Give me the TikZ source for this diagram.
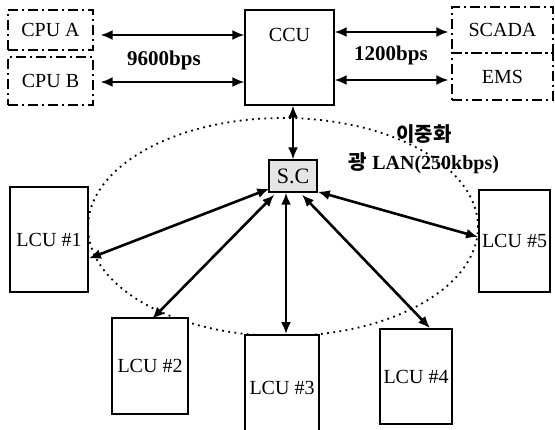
\documentclass[tikz,border=0pt]{standalone}
\usepackage{fontspec}
\setmainfont{Liberation Serif}
\newfontfamily\cjk{Noto Sans CJK KR}
\usetikzlibrary{arrows.meta,calc}

\tikzset{
  box/.style={draw, line width=0.9pt, fill=white, inner sep=0pt},
  dashbox/.style={draw, line width=0.7pt, inner sep=0pt,
    dash pattern=on 5pt off 2pt on 1pt off 2pt},
  link/.style={<->, line width=0.9pt},
  biglink/.style={<->, line width=1.3pt},
}

\begin{document}
\begin{tikzpicture}[>={Latex[length=6pt,width=5pt]}, x=0.5pt, y=-0.5pt]
			\clip (0,0) rectangle (555,429);
			% lan ring
			\draw[line width=0.9pt, dash pattern=on 0.9pt off 2.2pt] (283,227) ellipse [x radius=97.5pt, y radius=54.5pt];
			% upper level
			\node[dashbox, minimum width=42.5pt, minimum height=20pt] (cpua) at (50.5,30) {CPU A};
			\node[dashbox, minimum width=42.5pt, minimum height=24pt] (cpub) at (50.5,81) {CPU B};
			\node[box, line width=0.7pt, minimum width=44.5pt, minimum height=47.5pt,
				label={[yshift=11.25pt]center:CCU}] (ccu) at (289.5,57.5) {};
			\node[dashbox, minimum width=50.5pt, minimum height=23pt] (scada) at (502.5,30) {SCADA};
			\node[dashbox, minimum width=50.5pt, minimum height=23.5pt] (ems) at (502.5,76.5) {EMS};
			\node[box, line width=0.7pt, fill=black!10, minimum width=24pt, minimum height=16pt,
				font=\fontsize{11}{13}\selectfont] (sc) at (293,176) {S.C};
			% local units
			\node[box, minimum width=39pt, minimum height=52.5pt] (lcu1) at (49,239.5) {LCU \#1};
			\node[box, minimum width=38pt, minimum height=48pt] (lcu2) at (150,366) {LCU \#2};
			\node[box, minimum width=37pt, minimum height=52.5pt] (lcu3) at (282,387.5) {LCU \#3};
			\node[box, minimum width=36pt, minimum height=47.5pt] (lcu4) at (416,376.5) {LCU \#4};
			\node[box, minimum width=35.5pt, minimum height=51pt] (lcu5) at (514.5,241) {LCU \#5};
			% links
			\draw[link] ([shift={(7,5)}]cpua.east) coordinate (a1) -- (a1 -| ccu.west);
			\draw[link] ([shift={(7,1)}]cpub.east) coordinate (b1) -- (b1 -| ccu.west);
			\draw[link] ([shift={(-3,2)}]scada.west) coordinate (s1) -- (s1 -| ccu.east);
			\draw[link] ([shift={(-3,3.5)}]ems.west) coordinate (e1) -- (e1 -| ccu.east);
			\node[font=\bfseries\fontsize{10.5}{12}\selectfont] (r1) at (164,60) {9600bps};
			\node[font=\bfseries\fontsize{10.5}{12}\selectfont] (r2) at (391,55) {1200bps};
			\draw[link] (sc.north |- ccu.south) -- (sc.north);
			\draw[biglink] ([yshift=-9.5]lcu1.east) -- ([shift={(1,-4)}]sc.south west);
			\draw[biglink] ([shift={(2,2)}]lcu2.north) -- ([shift={(6,2)}]sc.south west);
			\draw[biglink] ([xshift=2]lcu3.north) coordinate (c3) -- (c3 |- sc.south);
			\draw[biglink] ([xshift=7]lcu4.north) -- ([shift={(9,2)}]sc.south);
			\draw[biglink] ([yshift=2]lcu5.west) -- ([shift={(0,-1)}]sc.south east);
			\node[align=center, font=\bfseries\fontsize{10}{14}\selectfont] (lan) at (424,149)
				{{\cjk 이중화}\\{\cjk 광} LAN(250kbps)};
		\end{tikzpicture}
\end{document}
